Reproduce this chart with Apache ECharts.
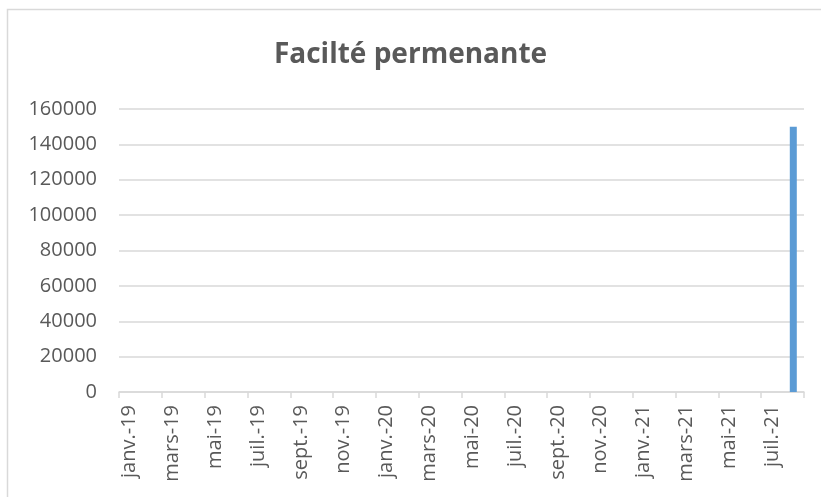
<!DOCTYPE html>
<html>
<head>
<meta charset="utf-8">
<script src="https://cdn.jsdelivr.net/npm/echarts@6/dist/echarts.min.js"></script>
<style>
  html, body { margin: 0; padding: 0; background: #fff; }
  #container { width: 821px; height: 497px; }
</style>
</head>
<body>
<div id="container"></div>
<script>
// mois de janv.-19 a août-21
var months = [
	'janv.-19', 'févr.-19', 'mars-19', 'avr.-19', 'mai-19', 'juin-19', 'juil.-19', 'août-19',
	'sept.-19', 'oct.-19', 'nov.-19', 'déc.-19',
	'janv.-20', 'févr.-20', 'mars-20', 'avr.-20', 'mai-20', 'juin-20', 'juil.-20', 'août-20',
	'sept.-20', 'oct.-20', 'nov.-20', 'déc.-20',
	'janv.-21', 'févr.-21', 'mars-21', 'avr.-21', 'mai-21', 'juin-21', 'juil.-21', 'août-21'
];
var valeurs = [
	0, 0, 0, 0, 0, 0, 0, 0, 0, 0, 0, 0,
	0, 0, 0, 0, 0, 0, 0, 0, 0, 0, 0, 0,
	0, 0, 0, 0, 0, 0, 0, 150000
];
var titre = 'Facilté permenante';

var dom = document.getElementById("container");
var myChart = echarts.init(dom);
var font = '"Open Sans", "Noto Sans", sans-serif';

var option = {
	animation: false,
	backgroundColor: '#fff',
	title: {
		text: titre,
		left: 'center',
		top: 36,
		textStyle: {
			color: '#595959',
			fontSize: 28,
			fontWeight: 'bold',
			fontFamily: font
		}
	},
	graphic: [{
		type: 'rect',
		shape: { x: 7.5, y: 9.5, width: 830, height: 500 },
		style: { fill: 'none', stroke: '#d9d9d9', lineWidth: 1.5 },
		silent: true
	}],
	grid: {
		left: 119,
		right: 17,
		top: 109,
		bottom: 105,
		containLabel: false
	},
	xAxis: {
		type: 'category',
		data: months,
		boundaryGap: true,
		axisLine: { lineStyle: { color: '#d9d9d9', width: 1.5 } },
		axisTick: {
			show: true,
			interval: 1,
			length: 6,
			lineStyle: { color: '#d9d9d9', width: 1.5 }
		},
		axisLabel: {
			interval: 1,
			rotate: 90,
			color: '#595959',
			fontSize: 20,
			fontFamily: font,
			margin: 13
		}
	},
	yAxis: {
		type: 'value',
		min: 0,
		max: 160000,
		interval: 20000,
		axisLine: { show: false },
		axisTick: { show: false },
		splitLine: { lineStyle: { color: '#d9d9d9', width: 1.5 } },
		axisLabel: {
			color: '#595959',
			fontSize: 20,
			fontFamily: font,
			margin: 22,
			formatter: function(v) { return String(v); }
		}
	},
	series: [{
		name: titre,
		type: 'bar',
		data: valeurs,
		barWidth: 7,
		itemStyle: { color: '#5b9bd5' }
	}]
};
if(option && typeof option === "object") {
	myChart.setOption(option, true);
}
</script>
</body>
</html>
